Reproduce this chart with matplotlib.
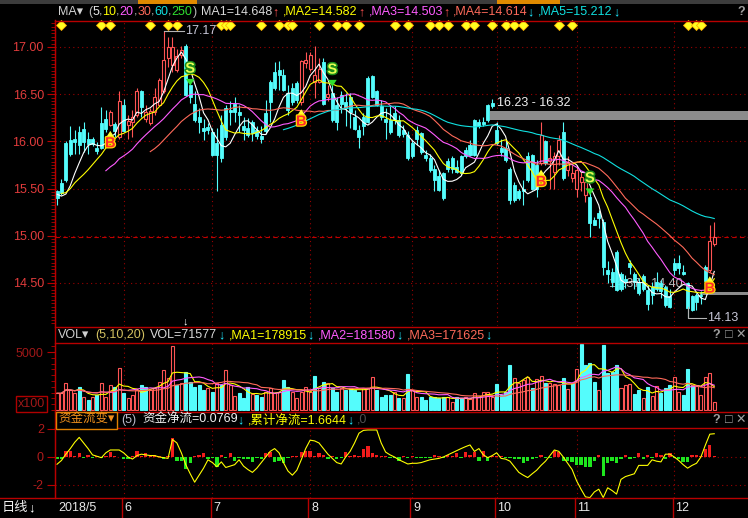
import numpy as np
import pandas as pd
import matplotlib
matplotlib.use("Agg")
import matplotlib.pyplot as plt
from matplotlib.patches import Rectangle
from matplotlib.lines import Line2D
from matplotlib.ticker import MultipleLocator
import matplotlib.patheffects as pe
import matplotlib.transforms as mtransforms

plt.rcParams['font.family'] = ['Liberation Sans', 'Noto Sans CJK SC', 'DejaVu Sans']

# ---- daily bars, 2018/5/11 .. 2018/12/14 ----
prior_close = [15.50, 15.45, 15.38, 15.50, 15.55, 15.48, 15.42, 15.35]

open_ = [15.47, 15.56, 15.98, 16.01, 16.02, 16.10, 16.13, 16.03, 16.02, 15.93,
         16.19, 16.24, 16.17, 16.18, 16.05, 16.38, 16.17, 16.20, 16.28, 16.53,
         16.24, 16.19, 16.31, 16.39, 16.53, 16.88, 16.81, 16.76, 16.91, 17.01,
         16.60, 16.40, 16.26, 16.14, 16.15, 16.10, 15.98, 16.17, 16.35, 16.33,
         16.40, 16.31, 16.16, 16.14, 16.20, 16.12, 16.06, 16.30, 16.63, 16.74,
         16.76, 16.70, 16.51, 16.57, 16.62, 16.42, 16.83, 16.77, 16.63, 16.63,
         16.84, 16.47, 16.51, 16.39, 16.49, 16.42, 16.47, 16.26, 16.12, 16.26,
         16.67, 16.69, 16.53, 16.37, 16.24, 16.23, 16.30, 16.23, 16.12, 16.07,
         15.98, 16.12, 16.09, 15.86, 15.82, 15.71, 15.63, 15.66, 15.79, 15.82,
         15.73, 15.84, 15.91, 15.96, 16.23, 16.21, 16.20, 16.39, 16.41, 16.12,
         15.93, 15.93, 15.71, 15.54, 15.47, 15.50, 15.84, 15.86, 15.75, 15.77,
         16.00, 15.79, 15.68, 15.84, 16.10, 15.70, 15.61, 15.50, 15.57, 15.43,
         15.41, 15.17, 15.24, 15.15, 14.64, 14.62, 14.83, 14.60, 14.54, 14.71,
         14.60, 14.51, 14.57, 14.43, 14.46, 14.51, 14.50, 14.46, 14.36, 14.71,
         14.71, 14.62, 14.50, 14.36, 14.37, 14.37, 14.67, 14.64, 14.91]
high = [15.49, 15.60, 16.00, 16.16, 16.12, 16.16, 16.20, 16.10, 16.05, 15.99,
        16.36, 16.33, 16.33, 16.20, 16.53, 16.45, 16.28, 16.33, 16.56, 16.54,
        16.39, 16.35, 16.56, 16.67, 17.17, 17.11, 17.11, 16.98, 17.01, 17.03,
        16.61, 16.53, 16.35, 16.24, 16.19, 16.14, 16.14, 16.28, 16.39, 16.43,
        16.47, 16.38, 16.26, 16.25, 16.23, 16.16, 16.16, 16.44, 16.65, 16.84,
        16.85, 16.77, 16.60, 16.62, 16.64, 16.86, 16.95, 16.95, 17.01, 16.88,
        16.88, 16.60, 16.60, 16.47, 16.53, 16.51, 16.51, 16.33, 16.17, 16.30,
        16.69, 16.70, 16.54, 16.44, 16.35, 16.37, 16.37, 16.28, 16.17, 16.11,
        16.01, 16.16, 16.10, 15.91, 15.87, 15.75, 15.70, 15.68, 15.82, 15.84,
        15.80, 15.86, 15.94, 16.01, 16.24, 16.24, 16.26, 16.40, 16.45, 16.21,
        16.03, 16.01, 15.73, 15.57, 15.50, 15.59, 15.89, 15.87, 15.80, 16.21,
        16.01, 15.96, 15.89, 16.07, 16.21, 15.84, 15.75, 15.75, 15.68, 15.59,
        15.45, 15.20, 15.27, 15.18, 14.73, 14.66, 14.85, 14.62, 14.58, 14.74,
        14.62, 14.55, 14.60, 14.48, 14.51, 14.62, 14.53, 14.48, 14.44, 14.76,
        14.80, 14.69, 14.51, 14.37, 14.39, 14.41, 14.69, 15.11, 15.15]
low = [15.33, 15.43, 15.57, 15.85, 15.87, 15.87, 15.89, 15.87, 15.95, 15.87,
       15.92, 16.10, 16.16, 16.05, 16.03, 16.10, 16.02, 16.05, 16.26, 16.26,
       16.21, 16.17, 16.28, 16.37, 16.51, 16.79, 16.74, 16.74, 16.88, 16.48,
       16.41, 16.21, 16.09, 16.01, 16.08, 15.84, 15.47, 15.78, 16.01, 16.17,
       16.21, 16.10, 16.01, 16.05, 16.00, 16.03, 15.98, 16.08, 16.21, 16.54,
       16.54, 16.53, 16.28, 16.38, 16.41, 16.39, 16.78, 16.75, 16.46, 16.62,
       16.39, 16.43, 16.21, 16.12, 16.30, 16.16, 16.14, 16.12, 15.93, 16.07,
       16.19, 16.46, 16.37, 16.23, 16.03, 16.08, 16.18, 16.05, 16.05, 15.80,
       15.82, 15.96, 15.87, 15.79, 15.68, 15.47, 15.47, 15.38, 15.68, 15.66,
       15.66, 15.64, 15.82, 15.84, 15.84, 16.14, 16.16, 16.21, 16.35, 15.96,
       15.84, 15.78, 15.34, 15.36, 15.38, 15.33, 15.57, 15.48, 15.41, 15.75,
       15.75, 15.50, 15.50, 15.75, 15.59, 15.63, 15.57, 15.41, 15.47, 15.36,
       14.99, 15.11, 15.08, 14.58, 14.50, 14.46, 14.41, 14.41, 14.45, 14.60,
       14.44, 14.37, 14.41, 14.21, 14.28, 14.41, 14.34, 14.25, 14.23, 14.58,
       14.60, 14.58, 14.13, 14.20, 14.21, 14.28, 14.42, 14.62, 14.89]
close = [15.40, 15.45, 15.59, 15.87, 15.99, 15.96, 15.99, 15.97, 15.97, 15.90,
         15.93, 16.13, 16.31, 16.11, 16.43, 16.11, 16.22, 16.26, 16.53, 16.36,
         16.31, 16.32, 16.47, 16.65, 16.86, 17.00, 17.00, 16.90, 16.97, 16.49,
         16.47, 16.23, 16.21, 16.11, 16.12, 15.86, 15.86, 15.82, 16.05, 16.31,
         16.31, 16.28, 16.12, 16.07, 16.09, 16.06, 16.03, 16.11, 16.42, 16.56,
         16.70, 16.54, 16.33, 16.42, 16.44, 16.85, 16.86, 16.91, 16.70, 16.77,
         16.40, 16.50, 16.23, 16.21, 16.40, 16.35, 16.31, 16.13, 16.05, 16.16,
         16.21, 16.47, 16.39, 16.26, 16.21, 16.10, 16.23, 16.07, 16.08, 15.82,
         15.84, 16.03, 15.89, 15.82, 15.70, 15.59, 15.48, 15.40, 15.71, 15.71,
         15.68, 15.66, 15.84, 15.86, 15.86, 16.16, 16.18, 16.23, 16.37, 15.98,
         15.89, 15.80, 15.38, 15.38, 15.40, 15.47, 15.59, 15.50, 15.50, 16.07,
         15.77, 15.82, 15.84, 16.01, 15.61, 15.78, 15.66, 15.70, 15.62, 15.57,
         15.13, 15.11, 15.19, 14.67, 14.60, 14.51, 14.43, 14.44, 14.51, 14.67,
         14.51, 14.39, 14.44, 14.28, 14.37, 14.44, 14.41, 14.27, 14.25, 14.64,
         14.66, 14.60, 14.23, 14.21, 14.30, 14.36, 14.52, 14.94, 14.99]

# volume in units of 100 lots
volume = [1435, 1435, 2296, 1722, 1435, 2009, 1148, 861, 1148, 1292,
          2296, 1148, 2153, 2009, 3588, 1435, 1005, 1292, 1722, 2153,
          2009, 1722, 1866, 2440, 3444, 2727, 5510, 2153, 2296, 3300,
          2440, 2009, 2153, 1722, 1866, 1579, 2296, 2153, 3444, 2153,
          1205, 1435, 1005, 2009, 1378, 1292, 1148, 1579, 1866, 1435,
          1579, 2583, 2009, 1579, 1005, 1579, 2009, 1579, 2927, 1866,
          2440, 2296, 1866, 1579, 1866, 1722, 1866, 1722, 1579, 1866,
          1866, 2813, 1722, 1148, 1292, 1292, 1579, 1005, 1005, 3100,
          1722, 1091, 1091, 861, 1148, 1091, 1005, 1091, 1091, 718,
          1091, 1005, 1091, 918, 1435, 1148, 1579, 1579, 1091, 2239,
          1292, 1579, 3875, 2727, 2353, 2583, 2813, 1866, 2640, 2927,
          2353, 2353, 2239, 2153, 2727, 1779, 2296, 3501, 5654, 3875,
          4075, 2440, 1722, 5597, 3214, 3300, 3875, 1866, 2153, 2210,
          1378, 1722, 1005, 2009, 1205, 2066, 1435, 1866, 2153, 2813,
          1579, 1292, 3501, 2153, 2066, 1292, 2813, 3157, 716]

# 资金流变: daily net flow (bars) and cumulative net flow (line)
net_flow = [-0.17, -0.13, 0.43, 0.43, 0.09, 0.26, -0.09, 0.17, -0.09, 0.09,
            -0.09, 0.09, 0.34, 0.09, 0.03, -0.17, -0.13, 0.09, 0.43, 0.09,
            0.26, 0.09, 0.17, 0.09, -0.17, 0.09, 1.37, -0.26, -0.26, -0.86,
            -0.43, 0.09, 0.17, 0.26, -0.17, -0.09, -0.69, 0.17, -0.09, 0.26,
            -0.26, -0.09, -0.17, -0.17, -0.34, -0.09, -0.17, 0.26, 0.34, -0.34,
            -0.26, -0.43, -0.09, 0.09, 0.09, 0.34, 0.43, 0.43, 0.09, 0.26,
            0.17, -0.17, 0.09, -0.17, -0.09, 0.34, 0.09, 0.17, 0.09, 0.60,
            0.77, 0.26, 0.17, 0.09, 0.09, -0.09, -0.09, -0.26, 0.09, -0.09,
            0.09, -0.09, -0.09, -0.09, -0.09, 0.17, 0.09, -0.09, 0.17, 0.09,
            0.26, -0.09, 0.34, 0.17, 0.34, -0.26, 0.43, -0.26, 0.09, 0.09,
            0.09, -0.09, -0.09, -0.17, -0.17, -0.43, -0.26, -0.17, -0.09, 0.17,
            -0.09, -0.09, 0.43, 0.34, -0.26, -0.26, -0.34, -0.60, -0.60, -0.69,
            -0.69, -0.26, 0.17, -1.37, -0.43, -0.26, -0.43, -0.17, 0.17, -0.17,
            -0.09, 0.26, -0.17, 0.17, -0.09, 0.26, 0.17, -0.17, 0.26, -0.09,
            -0.17, -0.34, -0.34, 0.17, 0.17, 0.09, 0.60, 0.86, 0.08]
cum_flow = [-0.52, -0.25, 0.20, 0.60, 1.05, 1.40, 1.00, 0.60, 0.15, 0.05,
            -0.05, 0.30, 0.50, 0.50, 0.50, 0.30, 0.00, -0.15, 0.10, 0.20,
            0.15, 0.10, 0.10, 0.00, -0.05, -0.10, 1.25, 1.00, 0.30, -0.55,
            -1.20, -1.80, -1.30, -0.80, -0.20, -0.40, -0.70, -0.35, -0.75, -0.65,
            -0.55, -0.20, -0.65, -0.90, -1.10, -0.80, -0.40, 0.00, 0.40, 0.60,
            0.30, -0.40, -1.00, -1.30, -0.95, -0.20, 0.60, 1.20, 1.15, 1.00,
            0.60, 0.20, -0.10, -0.40, -0.50, 0.00, 0.40, 1.00, 1.70, 1.90,
            1.93, 1.93, 1.93, 1.00, 0.35, 0.15, 0.00, -0.20, -0.35, -0.50,
            -0.45, -0.45, -0.40, -0.30, -0.20, -0.15, -0.10, 0.00, 0.15, 0.30,
            0.45, 0.60, 0.74, 0.86, 0.40, 0.60, 0.15, -0.05, 0.10, 0.30,
            -0.10, -0.15, -0.30, -0.70, -1.10, -1.30, -1.47, -1.20, -0.95, -0.60,
            -0.30, 0.10, 0.50, 0.40, 0.00, -0.45, -0.90, -1.70, -2.30, -2.85,
            -2.90, -2.50, -2.30, -2.90, -2.20, -2.40, -2.65, -1.60, -1.40, -1.30,
            -1.20, -0.60, -0.60, -0.60, -0.20, -0.30, -0.35, 0.20, 0.20, 0.00,
            -0.25, -0.55, -0.80, -0.60, -0.45, 0.00, 0.85, 1.63, 1.66]

month_labels = ['2018/5', '6', '7', '8', '9', '10', '11', '12']
month_start = [0, 15, 35, 57, 80, 99, 117, 139]

buy_idx = [12, 55, 109, 147]
sell_idx = [30, 62, 120]
event_idx = [1, 10, 12, 21, 25, 27, 37, 38, 39, 46, 50, 52, 53, 59, 63, 65, 68,
             76, 79, 84, 86, 88, 92, 94, 98, 101, 103, 105, 113, 116, 142, 144, 145]
gap_up = (97.5, 16.23, 16.32)
gap_dn = (144.8, 14.37, 14.40)

# ---- colours ----
RED = '#ff5454'
CYAN = '#54fcfc'
GRID = '#9a0000'
REDLINE = '#b80000'
WHITE = '#e6e6e6'
YELLOW = '#ffff00'
MAGENTA = '#ff5cff'
SALMON = '#ff6a5a'
MACYAN = '#10e0e0'
FS = 9

W, H = 748, 518
fig = plt.figure(figsize=(W / 100, H / 100), dpi=100, facecolor='black')


def box(x0, y0, x1, y1):
    return [x0 / W, 1 - y1 / H, (x1 - x0) / W, (y1 - y0) / H]


def ftext(x, y, s, color, ha='left', size=FS, **kw):
    return fig.text(x / W, 1 - y / H, s, color=color, ha=ha, va='center', fontsize=size, **kw)


def fline(x0, x1, y0, y1, color=REDLINE, lw=1.0):
    fig.add_artist(Line2D([x0 / W, x1 / W], [1 - y0 / H, 1 - y1 / H], color=color, lw=lw))


n = len(close)
idx = np.arange(n)
o, h, l, c = map(np.array, (open_, high, low, close))
full_close = pd.Series(prior_close + close)
prev_close = np.array(full_close.shift(1))[len(prior_close):]

ax = fig.add_axes(box(55, 21, 748, 326), facecolor='black')
axv = fig.add_axes(box(55, 343, 748, 411), facecolor='black')
axf = fig.add_axes(box(55, 428, 748, 498), facecolor='black')
xlim = (-0.45, 155.6)
for a in (ax, axv, axf):
    a.set_xlim(*xlim)
    a.set_xticks([])
    for s in ('top', 'right', 'bottom'):
        a.spines[s].set_visible(False)
    a.spines['left'].set_color(REDLINE)
    for m in month_start[1:]:
        a.axvline(m, color=GRID, ls=(0, (1, 3)), lw=0.8, zorder=0)

# ---- price panel ----
ax.set_ylim(14.044, 17.275)
levels = [14.5, 15.0, 15.5, 16.0, 16.5, 17.0]
for v in levels:
    ax.axhline(v, color=GRID, ls=(0, (1, 3)), lw=0.8, zorder=0)
ax.set_yticks(levels)
ax.set_yticklabels([f'{v:.2f}' for v in levels])
ax.yaxis.set_minor_locator(MultipleLocator(0.5 / 14))
ax.tick_params(axis='y', which='major', color=REDLINE, labelcolor='#e23c3c', labelsize=FS,
               length=6, width=0.8, pad=2)
ax.tick_params(axis='y', which='minor', color=REDLINE, length=3, width=0.6)
ax.axhline(c[-1], color='#c00000', ls=(0, (4, 3)), lw=0.8, zorder=1)

# gap bands
for x0, lo, hi in (gap_up, gap_dn):
    ax.add_patch(Rectangle((x0, lo), 200, hi - lo, fc='#8c8c8c', ec='none', zorder=1))
ax.text(gap_up[0] + 1.6, gap_up[2] + 0.09, f'{gap_up[1]:.2f} - {gap_up[2]:.2f}',
        color='#f0f0f0', fontsize=FS, va='center', ha='left', zorder=6)
ax.text(gap_dn[0] - 4, gap_dn[2] + 0.09, f'{gap_dn[1]:.2f} - {gap_dn[2]:.2f}',
        color='#bdbdbd', fontsize=FS, va='center', ha='right', zorder=1.5)

# candles
up = c >= o
ax.vlines(idx, l, h, colors=[RED if u else CYAN for u in up], lw=0.8, zorder=2)
for i in idx:
    bot = min(o[i], c[i])
    ht = max(abs(c[i] - o[i]), 0.006)
    if up[i]:
        ax.add_patch(Rectangle((i - 0.34, bot), 0.68, ht, fc='black', ec=RED, lw=0.8, zorder=3))
    else:
        ax.add_patch(Rectangle((i - 0.34, bot), 0.68, ht, fc=CYAN, ec=CYAN, lw=0.6, zorder=3))

# moving averages
for win, col in ((5, '#ffffff'), (10, YELLOW), (20, MAGENTA), (30, SALMON), (60, MACYAN)):
    ma = full_close.rolling(win).mean().to_numpy()[len(prior_close):]
    ax.plot(idx, ma, color=col, lw=0.8, zorder=4)

# extremes
ih = int(np.argmax(h))
il = int(np.argmin(l))
ax.plot([ih, ih + 4.7], [h[ih], h[ih]], color='#b4b4b4', lw=0.8, zorder=5)
ax.text(ih + 4.9, h[ih], f'{h[ih]:.2f}', color='#c8c8d8', fontsize=FS, va='center', zorder=6)
ax.plot([il, il, il + 4.2], [l[il] + 0.12, l[il], l[il]], color='#b4b4b4', lw=0.8, zorder=5)
ax.text(il + 4.4, l[il], f'{l[il]:.2f}', color='#c8c8d8', fontsize=FS, va='center', zorder=6)

# buy / sell signals
for i in buy_idx:
    ax.annotate('', xy=(i, l[i] - 0.02), xytext=(i, l[i] - 0.10), zorder=6,
                arrowprops=dict(arrowstyle='simple,head_length=0.7,head_width=0.9,tail_width=0.35',
                                fc='#ffff30', ec='none', mutation_scale=7))
    ax.text(i, l[i] - 0.18, 'B', color='#ff2a2a', fontsize=10.5, fontweight='bold', ha='center',
            va='center', zorder=7, path_effects=[pe.withStroke(linewidth=1.8, foreground='#ffd800')])
for i in sell_idx:
    ax.annotate('', xy=(i, h[i] - 0.05), xytext=(i, h[i] + 0.04), zorder=6,
                arrowprops=dict(arrowstyle='simple,head_length=0.7,head_width=0.9,tail_width=0.35',
                                fc='#30e030', ec='none', mutation_scale=7))
    ax.text(i, h[i] + 0.16, 'S', color='#e8ff50', fontsize=10.5, fontweight='bold', ha='center',
            va='center', zorder=7, path_effects=[pe.withStroke(linewidth=2.2, foreground='#1a8a1a')])

# information markers along the top
ax.plot(event_idx, [0.988] * len(event_idx), transform=ax.get_xaxis_transform(), ls='none',
        marker='D', ms=4.8, mfc='#ffff20', mec='#ffb000', mew=0.6, clip_on=False, zorder=6)

# ---- volume panel ----
axv.set_ylim(-86, 5776)
vol_up = c >= prev_close
axv.bar(idx, volume, width=0.68, color=['black' if u else CYAN for u in vol_up],
        edgecolor=[RED if u else CYAN for u in vol_up], lw=0.8, zorder=2)
vs = pd.Series(volume, dtype=float)
for win, col in ((5, YELLOW), (10, MAGENTA), (20, SALMON)):
    axv.plot(idx, vs.rolling(win, min_periods=1).mean(), color=col, lw=0.8, zorder=3)
axv.set_yticks([5000])
axv.set_yticklabels(['5000'])
axv.yaxis.set_minor_locator(MultipleLocator(500))
axv.tick_params(axis='y', which='major', color=REDLINE, labelcolor='#a01818', labelsize=FS,
                length=6, width=0.8, pad=2)
axv.tick_params(axis='y', which='minor', color=REDLINE, length=3, width=0.6)

# ---- money flow panel ----
axf.set_ylim(-2.93, 2.07)
for v in (0, -2):
    axf.axhline(v, color=GRID, ls=(0, (1, 3)), lw=0.8, zorder=0)
nf = np.array(net_flow)
axf.bar(idx, nf, width=0.75, color=np.where(nf > 0, '#f21c1c', '#1ee61e'), zorder=2)
axf.plot(idx, cum_flow, color=YELLOW, lw=0.8, zorder=3)
axf.set_yticks([-2, 0, 2])
axf.set_yticklabels(['-2', '0', '2'])
axf.tick_params(axis='y', color=REDLINE, labelcolor='#b01c1c', labelsize=FS, length=6,
                width=0.8, pad=2)

# ---- frame lines ----
fline(55, 55, 20, 498)
for y in (20.5, 327, 342.5, 411.5, 428):
    fline(55, W, y, y)
fline(0, W, 498, 498)

# top tab strip
fig.add_artist(Rectangle((0, 1 - 4 / H), 1, 4 / H, transform=fig.transFigure, fc='#3c3c3c', ec='none'))
for x0, x1 in ((138, 197), (497, 560)):
    fig.add_artist(Rectangle((x0 / W, 1 - 4 / H), (x1 - x0) / W, 4 / H, transform=fig.transFigure,
                             fc='#e08a00', ec='none'))

# ---- headers ----
GRAY = '#b8b8b8'
ftext(58, 12, 'MA▾', '#d0d0d0')
x = 88
for s, col in (('(', GRAY), ('5', WHITE), (',', GRAY), ('10', YELLOW), (',', GRAY), ('20', MAGENTA),
               (',', GRAY), ('30', SALMON), (',', GRAY), ('60', MACYAN), (',', GRAY), ('250', '#30e030'),
               (')', GRAY)):
    t = ftext(x, 12, s, col)
    x += t.get_window_extent(renderer=fig.canvas.get_renderer()).width
ftext(201, 12, 'MA1=14.648', '#d8d8d8')
ftext(275, 12, '↑', '#ff5050', ha='center')
ftext(283, 12, ',MA2=14.582', YELLOW)
ftext(361, 12, '↑', '#ff5050', ha='center')
ftext(369, 12, ',MA3=14.503', MAGENTA)
ftext(446, 12, '↑', '#ff5050', ha='center')
ftext(453, 12, ',MA4=14.614', SALMON)
ftext(530, 12, '↓', '#20e8ff', ha='center')
ftext(538, 12, ',MA5=15.212', MACYAN)
ftext(616, 12, '↓', '#20e8ff', ha='center')
ftext(741, 12, '?', '#a0a0a0', ha='center', fontweight='bold')

ftext(58, 335, 'VOL▾', '#d0d0d0')
ftext(95, 335, '(5,10,20)', '#d2c060')
ftext(150, 335, 'VOL=71577', '#d8d8d8')
ftext(221, 335, '↓', '#20e8ff', ha='center')
ftext(229, 335, ',MA1=178915', YELLOW)
ftext(310, 335, '↓', '#20e8ff', ha='center')
ftext(318, 335, ',MA2=181580', MAGENTA)
ftext(399, 335, '↓', '#20e8ff', ha='center')
ftext(407, 335, ',MA3=171625', SALMON)
ftext(488, 335, '↓', '#20e8ff', ha='center')
ftext(185, 321, '↓', '#ffffff', ha='center', size=8, fontweight='bold')

ftext(58, 420, '资金流变▾', '#f0901c',
      bbox=dict(boxstyle='square,pad=0.2', fc='black', ec='#e08000', lw=1))
ftext(121, 420, '(5)', '#b8b8c8')
ftext(142, 420, '资金净流=0.0769', '#f0f0f0')
ftext(240, 420, '↓', '#20e8ff', ha='center')
ftext(248, 420, ',累计净流=1.6644', YELLOW)
ftext(350, 420, '↓', '#20e8ff', ha='center')
ftext(357, 420, ',0', '#505050')

for yy in (335, 420):
    ftext(716, yy, '?', '#a0a0a0', ha='center', fontweight='bold')
    ftext(729, yy, '□', '#a0a0a0', ha='center', fontweight='bold')
    ftext(741, yy, '✕', '#a0a0a0', ha='center', fontweight='bold')

ftext(18, 404, 'x100', '#a01818', bbox=dict(boxstyle='square,pad=0.15', fc='none', ec='#b00000', lw=1))

# ---- date strip ----
ftext(2, 508, '日线', '#f0f0f0', size=9.5)
ftext(32, 508, '↓', '#ffffff', ha='center', size=9.5, fontweight='bold')
trans = mtransforms.blended_transform_factory(axf.transData, fig.transFigure)
for lab, m in zip(month_labels, month_start):
    fig.text(m + 0.2, 1 - 508 / H, lab, transform=trans, color='#e8e8e8', fontsize=FS,
             ha='left', va='center')
    if m > 0:
        fig.add_artist(Line2D([m - 0.4, m - 0.4], [0, 1 - 498 / H], transform=trans,
                              color=REDLINE, lw=1))

fig.savefig('out.png', dpi=100, facecolor='black')
